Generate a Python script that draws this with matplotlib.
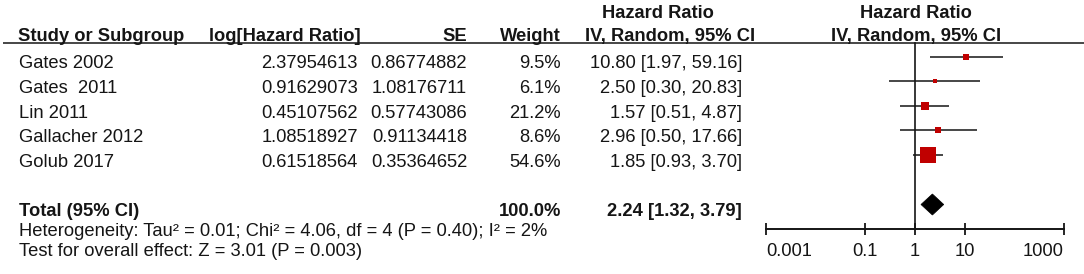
import numpy as np
import matplotlib
matplotlib.use("Agg")
import matplotlib.pyplot as plt
from matplotlib.patches import Polygon
from matplotlib.ticker import NullLocator

# ---------------------------------------------------------------------------
# data
# ---------------------------------------------------------------------------
studies = ["Gates 2002", "Gates  2011", "Lin 2011", "Gallacher 2012", "Golub 2017"]
log_hr = ["2.37954613", "0.91629073", "0.45107562", "1.08518927", "0.61518564"]
se = ["0.86774882", "1.08176711", "0.57743086", "0.91134418", "0.35364652"]
weight = [9.5, 6.1, 21.2, 8.6, 54.6]
hr = [10.80, 2.50, 1.57, 2.96, 1.85]
ci_lo = [1.97, 0.30, 0.51, 0.50, 0.93]
ci_hi = [59.16, 20.83, 4.87, 17.66, 3.70]

total_hr, total_lo, total_hi = 2.24, 1.32, 3.79
total_weight = 100.0
heterogeneity = "Heterogeneity: Tau\u00b2 = 0.01; Chi\u00b2 = 4.06, df = 4 (P = 0.40); I\u00b2 = 2%"
overall = "Test for overall effect: Z = 3.01 (P = 0.003)"

axis_ticks = [0.001, 0.1, 1, 10, 1000]
axis_labels = ["0.001", "0.1", "1", "10", "1000"]

# ---------------------------------------------------------------------------
W, H = 1084, 274
plt.rcParams['font.family'] = ['Liberation Sans', 'DejaVu Sans']
fs = 13.2
ink = '#151515'
red = '#C00000'

fig = plt.figure(figsize=(W / 100, H / 100), dpi=100)

# text table, pixel coordinates
ax = fig.add_axes([0, 0, 1, 1])
ax.set_xlim(0, W)
ax.set_ylim(H, 0)
ax.axis('off')

# forest panel, log x, same pixel rows
x0, x1 = 766, 1064
fa = fig.add_axes([x0 / W, 0, (x1 - x0) / W, 1])
fa.set_xscale('log')
fa.set_xlim(0.001, 1000)
fa.set_ylim(H, 0)
fa.patch.set_alpha(0)
for s in ['top', 'right', 'left']:
    fa.spines[s].set_visible(False)

# header
ax.text(658, 17.5, "Hazard Ratio", ha='center', va='baseline', fontsize=fs, weight='bold', color=ink)
ax.text(916, 17.5, "Hazard Ratio", ha='center', va='baseline', fontsize=fs, weight='bold', color=ink)
ax.text(18, 40.7, "Study or Subgroup", ha='left', va='baseline', fontsize=fs, weight='bold', color=ink)
ax.text(361, 40.7, "log[Hazard Ratio]", ha='right', va='baseline', fontsize=fs, weight='bold', color=ink)
ax.text(467, 40.7, "SE", ha='right', va='baseline', fontsize=fs, weight='bold', color=ink)
ax.text(561, 40.7, "Weight", ha='right', va='baseline', fontsize=fs, weight='bold', color=ink)
ax.text(670, 40.7, "IV, Random, 95% CI", ha='center', va='baseline', fontsize=fs, weight='bold', color=ink)
ax.text(916, 40.7, "IV, Random, 95% CI", ha='center', va='baseline', fontsize=fs, weight='bold', color=ink)
ax.plot([3, W], [42.5, 42.5], color=ink, lw=1.1, solid_capstyle='butt')

# study rows
row0, step = 68.5, 24.6
for i in range(len(studies)):
    yb = row0 + i * step
    ax.text(19, yb, studies[i], ha='left', va='baseline', fontsize=fs, color=ink)
    ax.text(358, yb, log_hr[i], ha='right', va='baseline', fontsize=fs, color=ink)
    ax.text(467, yb, se[i], ha='right', va='baseline', fontsize=fs, color=ink)
    ax.text(561, yb, "%.1f%%" % weight[i], ha='right', va='baseline', fontsize=fs, color=ink)
    ax.text(742, yb, "%.2f [%.2f, %.2f]" % (hr[i], ci_lo[i], ci_hi[i]),
            ha='right', va='baseline', fontsize=fs, color=ink)

    ym = yb - 12
    fa.plot([ci_lo[i], ci_hi[i]], [ym, ym], color=ink, lw=1.1, solid_capstyle='butt', zorder=2)
    side = (3 + 0.25 * weight[i]) * 0.72
    fa.scatter([hr[i]], [ym], marker='s', s=side ** 2, color=red, linewidths=0, zorder=3)

# total row
yt = 216.5
ax.text(19, yt, "Total (95% CI)", ha='left', va='baseline', fontsize=fs, weight='bold', color=ink)
ax.text(561, yt, "%.1f%%" % total_weight, ha='right', va='baseline', fontsize=fs, weight='bold', color=ink)
ax.text(742, yt, "%.2f [%.2f, %.2f]" % (total_hr, total_lo, total_hi),
        ha='right', va='baseline', fontsize=fs, weight='bold', color=ink)
yd = 204.5
diamond = Polygon([[total_lo, yd], [total_hr, yd - 10.5], [total_hi, yd], [total_hr, yd + 10.5]],
                  closed=True, facecolor='black', edgecolor='black', lw=0.5, zorder=3)
fa.add_patch(diamond)

ax.text(19, 235.5, heterogeneity, ha='left', va='baseline', fontsize=fs, color=ink)
ax.text(19, 255.5, overall, ha='left', va='baseline', fontsize=fs, color=ink)

# line of no effect
fa.plot([1, 1], [43, 229], color=ink, lw=1.2, zorder=1)

# x axis
fa.spines['bottom'].set_position(('data', 229))
fa.spines['bottom'].set_linewidth(1.4)
fa.spines['bottom'].set_color(ink)
fa.set_xticks(axis_ticks)
fa.set_xticklabels(axis_labels)
fa.xaxis.set_minor_locator(NullLocator())
fa.set_yticks([])
fa.tick_params(axis='x', direction='inout', length=8, width=1.3, color=ink,
               labelsize=fs, labelcolor=ink, pad=6)
labels = fa.get_xticklabels()
labels[0].set_ha('left')
labels[-1].set_ha('right')

fig.savefig("out.png", dpi=100)
